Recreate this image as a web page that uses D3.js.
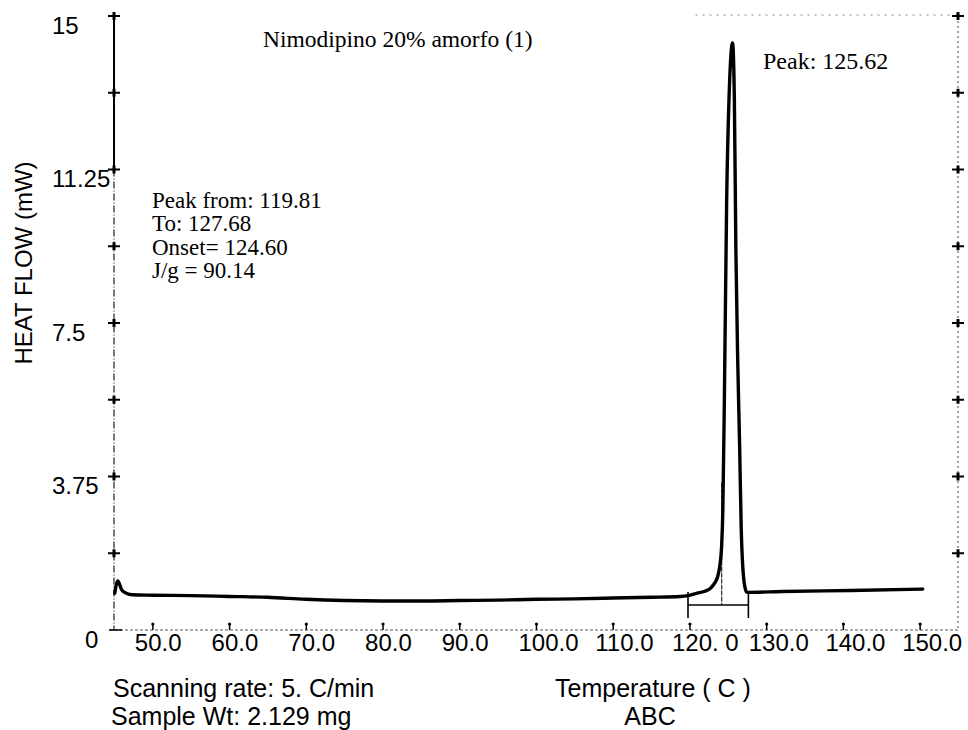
<!DOCTYPE html>
<html>
<head>
<meta charset="utf-8">
<script src="https://cdn.jsdelivr.net/npm/d3@7"></script>
<style>
  body { margin: 0; background: #fff; }
  svg { display: block; }
  .sans { font-family: "Liberation Sans", Arial, sans-serif; fill: #000; }
  .serif { font-family: "Liberation Serif", "Times New Roman", serif; fill: #000; }
</style>
</head>
<body>
<svg id="chart" width="968" height="730"></svg>
<script>
// DSC scan: temperature (C) and heat flow (mW)
const temperature = [
  45.1, 45.5, 46.0, 46.6, 47.4, 50, 55, 60, 65, 70, 75, 80, 85, 90, 95, 100,
  105, 110, 115, 118.8, 119.8, 121.0, 121.9, 122.8, 123.3, 123.7, 123.95,
  124.2, 124.35, 124.55, 124.85, 125.15, 125.62, 125.85, 126.05, 126.3,
  126.55, 126.75, 126.9, 127.05, 127.2, 127.4, 127.7, 132, 141, 150.4
];
const heatFlow = [
  0.90, 1.20, 0.98, 0.90, 0.86, 0.85, 0.84, 0.82, 0.80, 0.75, 0.72, 0.71,
  0.71, 0.72, 0.73, 0.75, 0.76, 0.78, 0.80, 0.82, 0.84, 0.90, 0.94, 1.03,
  1.15, 1.32, 1.56, 2.08, 2.93, 5.62, 10.5, 12.95, 14.34, 13.0, 9.3, 6.5,
  4.4, 2.45, 1.71, 1.29, 1.08, 0.93, 0.92, 0.94, 0.965, 1.00
];

const tempTicks = [50, 60, 70, 80, 90, 100, 110, 120, 130, 140, 150];
const tempTickLabels = ["50.0", "60.0", "70.0", "80.0", "90.0", "100.0", "110.0", "120. 0", "130.0", "140.0", "150.0"];
const flowTicks = [0, 3.75, 7.5, 11.25, 15];
const flowTickLabels = ["0", "3.75", "7.5", "11.25", "15"];
const flowMinorTicks = [1.875, 5.625, 9.375, 13.125];

// Peak integration results
const peakFrom = 119.81;
const peakTo = 127.68;
const onset = 124.60;
const peakTemp = 125.62;
const enthalpy = 90.14;

const sampleTitle = "Nimodipino 20% amorfo (1)";
const scanRate = "5.";
const sampleWeight = "2.129";

const svg = d3.select("#chart");
const x = d3.scaleLinear().domain([45, 155]).range([114, 958]);
const y = d3.scaleLinear().domain([0, 15]).range([630, 16]);

const x0 = x(45), x1 = x(155), yBase = y(0), yTop = y(15);

// Frame: dotted bottom line, partial dotted top line, dotted right axis
svg.append("line").attr("x1", x0 - 4).attr("x2", x1).attr("y1", yBase).attr("y2", yBase)
  .attr("stroke", "#555").attr("stroke-width", 1).attr("stroke-dasharray", "3,2");
svg.append("line").attr("x1", x(120.8)).attr("x2", x1).attr("y1", yTop - 1).attr("y2", yTop - 1)
  .attr("stroke", "#888").attr("stroke-width", 1).attr("stroke-dasharray", "2,5");
svg.append("line").attr("x1", x1).attr("x2", x1).attr("y1", yTop).attr("y2", yBase)
  .attr("stroke", "#444").attr("stroke-width", 1).attr("stroke-dasharray", "2,3");

// Left axis: solid at the top, dash-dot below
svg.append("line").attr("x1", x0).attr("x2", x0).attr("y1", yTop).attr("y2", y(11.25))
  .attr("stroke", "#000").attr("stroke-width", 2);
svg.append("line").attr("x1", x0).attr("x2", x0).attr("y1", y(11.25)).attr("y2", yBase)
  .attr("stroke", "#222").attr("stroke-width", 1.2).attr("stroke-dasharray", "7,2,1,2");

// Cross-shaped ticks on both vertical axes
const crossTicks = flowTicks.filter(v => v > 0).concat(flowMinorTicks);
[x0, x1].forEach(ax => {
  const g = svg.append("g");
  g.selectAll("line.h").data(crossTicks).join("line")
    .attr("x1", ax - 6).attr("x2", ax + 6)
    .attr("y1", d => y(d)).attr("y2", d => y(d))
    .attr("stroke", "#000").attr("stroke-width", 2);
  g.selectAll("line.v").data(crossTicks).join("line")
    .attr("x1", ax).attr("x2", ax)
    .attr("y1", d => y(d) - 4).attr("y2", d => y(d) + 4)
    .attr("stroke", "#000").attr("stroke-width", 3);
});
// Base of the left axis
svg.append("line").attr("x1", x0 - 5).attr("x2", x0 + 8).attr("y1", yBase).attr("y2", yBase)
  .attr("stroke", "#000").attr("stroke-width", 1.5);

// Y axis labels (hang below each tick, left aligned)
const yAxis = d3.axisLeft(y).tickValues(flowTicks).tickSize(0)
  .tickFormat((d, i) => flowTickLabels[i]);
const yg = svg.append("g").attr("transform", `translate(${x0},0)`).call(yAxis);
yg.select(".domain").remove();
yg.selectAll(".tick text")
  .attr("class", "sans").attr("font-size", 24)
  .attr("text-anchor", "start")
  .attr("dy", "0.71em")
  .attr("x", d => d === 0 ? -29 : -62);
yg.attr("font-family", null).attr("font-size", null);

// X axis: small upward ticks with a dot, labels below
const xAxis = d3.axisBottom(x).tickValues(tempTicks).tickSize(0)
  .tickFormat((d, i) => tempTickLabels[i]);
const xg = svg.append("g").attr("transform", `translate(0,${yBase})`).call(xAxis);
xg.select(".domain").remove();
xg.selectAll(".tick").append("line")
  .attr("y1", -7).attr("y2", 0).attr("stroke", "#000").attr("stroke-width", 1.5);
xg.selectAll(".tick").append("circle")
  .attr("cy", -6).attr("r", 1.6).attr("fill", "#000");
xg.selectAll(".tick text")
  .attr("class", "sans").attr("font-size", 24)
  .attr("text-anchor", "start").attr("dx", -18).attr("y", 4).attr("dy", "0.71em");
xg.attr("font-family", null).attr("font-size", null);

// Heat flow trace
const pts = temperature.map((t, i) => [t, heatFlow[i]]);
const line = d3.line().x(d => x(d[0])).y(d => y(d[1])).curve(d3.curveMonotoneX);
svg.append("path").datum(pts).attr("d", line)
  .attr("fill", "none").attr("stroke", "#000").attr("stroke-width", 3.4)
  .attr("stroke-linejoin", "round").attr("stroke-linecap", "round");

// Integration bracket under the peak
const bracketY = yBase - 25;
[peakFrom, peakTo].forEach(t => {
  svg.append("line").attr("x1", x(t)).attr("x2", x(t))
    .attr("y1", bracketY - 13).attr("y2", yBase - 12)
    .attr("stroke", "#000").attr("stroke-width", 1.6);
});
svg.append("line").attr("x1", x(peakFrom)).attr("x2", x(peakTo))
  .attr("y1", bracketY).attr("y2", bracketY)
  .attr("stroke", "#000").attr("stroke-width", 1.6);
svg.append("line").attr("x1", x(onset) - 3).attr("x2", x(onset) - 3)
  .attr("y1", y(3.6)).attr("y2", bracketY)
  .attr("stroke", "#000").attr("stroke-width", 1).attr("stroke-dasharray", "5,1");

// Annotations
svg.append("text").attr("class", "serif").attr("font-size", 23.5)
  .attr("x", 263).attr("y", 47).text(sampleTitle);
svg.append("text").attr("class", "serif").attr("font-size", 24)
  .attr("x", 763).attr("y", 69).text(`Peak: ${peakTemp.toFixed(2)}`);

const stats = [
  `Peak from: ${peakFrom.toFixed(2)}`,
  `To: ${peakTo.toFixed(2)}`,
  `Onset= ${onset.toFixed(2)}`,
  `J/g = ${enthalpy.toFixed(2)}`
];
svg.append("g").selectAll("text").data(stats).join("text")
  .attr("class", "serif").attr("font-size", 23)
  .attr("x", 152).attr("y", (d, i) => 208 + i * 23.3).text(d => d);

// Axis titles and run info
svg.append("text").attr("class", "sans").attr("font-size", 24)
  .attr("text-anchor", "middle")
  .attr("transform", "translate(32,263) rotate(-90)")
  .text("HEAT FLOW (mW)");
svg.append("text").attr("class", "sans").attr("font-size", 25)
  .attr("x", 113).attr("y", 697).text(`Scanning rate: ${scanRate} C/min`);
svg.append("text").attr("class", "sans").attr("font-size", 25)
  .attr("x", 111).attr("y", 725).text(`Sample Wt: ${sampleWeight} mg`);
svg.append("text").attr("class", "sans").attr("font-size", 25)
  .attr("x", 555).attr("y", 697).text("Temperature ( C )");
svg.append("text").attr("class", "sans").attr("font-size", 25)
  .attr("text-anchor", "middle").attr("x", 650).attr("y", 725).text("ABC");
</script>
</body>
</html>
